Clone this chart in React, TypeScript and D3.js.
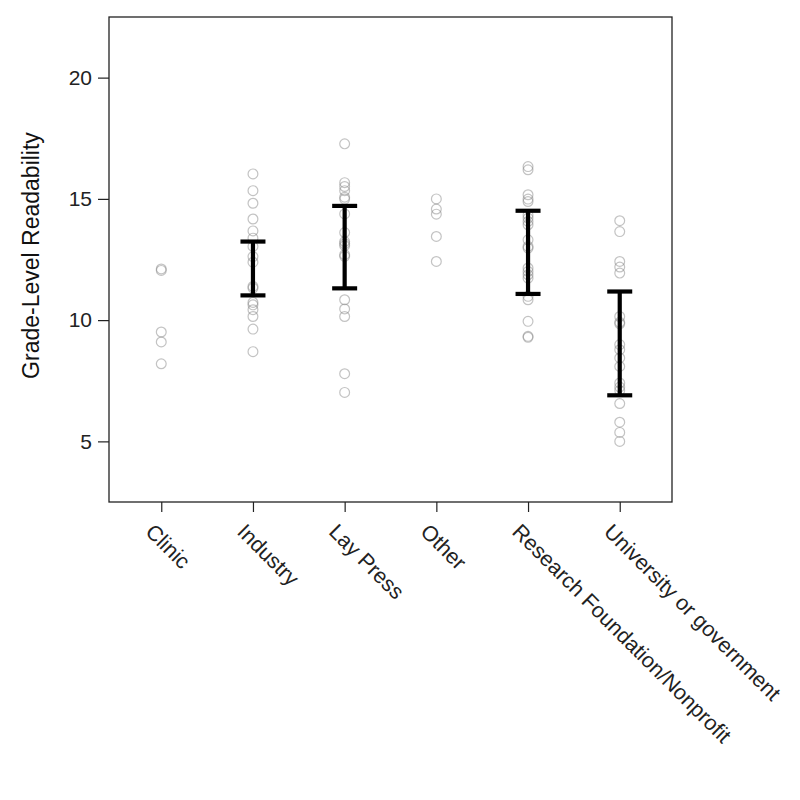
import * as d3 from "d3";
import { useRef, useEffect } from "react";

const categories = [
  "Clinic",
  "Industry",
  "Lay Press",
  "Other",
  "Research Foundation/Nonprofit",
  "University or government",
];

const clinic = [12.11, 12.05, 9.51, 9.1, 8.2];
const industry = [16.03, 15.34, 14.82, 14.17, 13.68, 13.38, 13.04, 12.62, 12.39, 11.39, 11.32, 10.73, 10.63, 10.43, 10.15, 9.63, 8.7];
const layPress = [17.27, 15.67, 15.51, 15.34, 15.07, 14.99, 14.38, 13.61, 13.24, 13.15, 13.07, 12.7, 12.63, 10.84, 10.46, 10.15, 7.79, 7.02];
const other = [15.0, 14.58, 14.37, 13.45, 12.42];
const research = [16.33, 16.2, 15.17, 14.99, 14.89, 14.34, 14.21, 14.07, 13.93, 13.31, 13.04, 12.97, 12.15, 12.01, 11.87, 11.73, 10.98, 10.84, 9.95, 9.33, 9.29];
const university = [14.1, 13.65, 12.42, 12.19, 11.94, 10.15, 9.91, 9.85, 8.99, 8.78, 8.44, 8.09, 7.41, 7.24, 7.1, 6.56, 5.79, 5.37, 5.0];

const groupValues = [clinic, industry, layPress, other, research, university];

// error bars (low, high); null where none drawn
const barLow = [null, 11.02, 11.31, null, 11.08, 6.9];
const barHigh = [null, 13.24, 14.71, null, 14.51, 11.18];

const yTicks = [5, 10, 15, 20];

function App() {
  const svgRef = useRef(null);
  const width = 800;
  const height = 800;
  const margin = { left: 109, right: 128, top: 17, bottom: 298 };

  useEffect(() => {
    const svg = d3.select(svgRef.current);
    svg.selectAll("*").remove();

    const x = d3
      .scalePoint()
      .domain(categories)
      .range([margin.left, width - margin.right])
      .padding(0.57);

    const y = d3
      .scaleLinear()
      .domain([2.5, 22.5])
      .range([height - margin.bottom, margin.top]);

    const font = "'Liberation Sans', Arial, sans-serif";

    // frame
    svg
      .append("rect")
      .attr("x", margin.left)
      .attr("y", margin.top)
      .attr("width", width - margin.left - margin.right)
      .attr("height", height - margin.top - margin.bottom)
      .attr("fill", "none")
      .attr("stroke", "#222")
      .attr("stroke-width", 1.3);

    // y axis
    const yAxis = svg
      .append("g")
      .attr("transform", `translate(${margin.left},0)`)
      .call(d3.axisLeft(y).tickValues(yTicks).tickSize(11).tickPadding(6));
    yAxis.select(".domain").remove();
    yAxis.selectAll("line").attr("stroke", "#222").attr("stroke-width", 1.2);
    yAxis
      .selectAll("text")
      .attr("font-family", font)
      .attr("font-size", 21)
      .attr("fill", "#222");

    // x axis
    const xAxis = svg
      .append("g")
      .attr("transform", `translate(0,${height - margin.bottom})`)
      .call(d3.axisBottom(x).tickSize(10).tickFormat(() => ""));
    xAxis.select(".domain").remove();
    xAxis.selectAll("line").attr("stroke", "#222").attr("stroke-width", 1.2);

    svg
      .append("g")
      .selectAll("text")
      .data(categories)
      .join("text")
      .attr(
        "transform",
        (d) => `translate(${x(d) - 17},${height - margin.bottom + 31}) rotate(45)`
      )
      .attr("text-anchor", "start")
      .attr("font-family", font)
      .attr("font-size", 21.5)
      .attr("fill", "#222")
      .text((d) => d);

    // y label
    svg
      .append("text")
      .attr("transform", `translate(39,${(margin.top + height - margin.bottom) / 2 - 4}) rotate(-90)`)
      .attr("text-anchor", "middle")
      .attr("font-family", font)
      .attr("font-size", 23)
      .attr("fill", "#111")
      .text("Grade-Level Readability");

    // points
    const pts = groupValues.flatMap((vals, i) =>
      vals.map((v) => ({ cat: categories[i], v }))
    );
    svg
      .append("g")
      .selectAll("circle")
      .data(pts)
      .join("circle")
      .attr("cx", (d) => x(d.cat))
      .attr("cy", (d) => y(d.v))
      .attr("r", 4.9)
      .attr("fill", "none")
      .attr("stroke", "#888")
      .attr("stroke-opacity", 0.5)
      .attr("stroke-width", 1.2);

    // error bars
    const bars = categories
      .map((c, i) => ({ cat: c, lo: barLow[i], hi: barHigh[i] }))
      .filter((d) => d.lo !== null);
    const g = svg.append("g").attr("stroke", "#000").attr("stroke-width", 4.2);
    const cap = 12.5;
    g.selectAll(".v")
      .data(bars)
      .join("line")
      .attr("x1", (d) => x(d.cat))
      .attr("x2", (d) => x(d.cat))
      .attr("y1", (d) => y(d.lo))
      .attr("y2", (d) => y(d.hi));
    g.selectAll(".lo")
      .data(bars)
      .join("line")
      .attr("x1", (d) => x(d.cat) - cap)
      .attr("x2", (d) => x(d.cat) + cap)
      .attr("y1", (d) => y(d.lo))
      .attr("y2", (d) => y(d.lo));
    g.selectAll(".hi")
      .data(bars)
      .join("line")
      .attr("x1", (d) => x(d.cat) - cap)
      .attr("x2", (d) => x(d.cat) + cap)
      .attr("y1", (d) => y(d.hi))
      .attr("y2", (d) => y(d.hi));
  }, []);

  return (
    <svg
      ref={svgRef}
      width={width}
      height={height}
      style={{ position: "absolute", left: 0, top: 0, background: "#fff" }}
    ></svg>
  );
}

export default App;
